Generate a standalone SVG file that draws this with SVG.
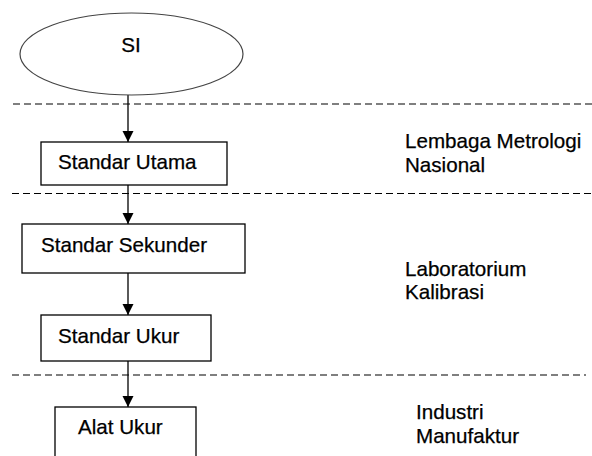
<svg xmlns="http://www.w3.org/2000/svg" width="592" height="456" viewBox="0 0 592 456">
<defs>
<style>
.node{fill:#fff;stroke:#000;stroke-width:1.3}
.oval{fill:#fff;stroke:#444;stroke-width:1.2}
.t{font-family:"Liberation Sans",Arial,sans-serif;font-size:20.6px;fill:#000;stroke:#000;stroke-width:0.25}
.dash{stroke:#000;stroke-width:1.2;stroke-dasharray:7 4;fill:none}
.conn{stroke:#000;stroke-width:1.3;fill:none;marker-end:url(#ah)}
</style>
<marker id="ah" markerUnits="userSpaceOnUse" markerWidth="12" markerHeight="12" viewBox="0 0 12 12" refX="11" refY="6" orient="auto">
<path d="M0,0.5 L11,6 L0,11.5 Z" fill="#000"/>
</marker>
</defs>
<rect width="592" height="456" fill="#fff"/>
<g id="dividers">
<line class="dash" x1="13" y1="104" x2="592" y2="104"/>
<line class="dash" x1="12" y1="193.5" x2="592" y2="193.5"/>
<line class="dash" x1="12" y1="375" x2="586" y2="375"/>
</g>
<g id="connectors">
<line class="conn" x1="128" y1="95" x2="128" y2="142"/>
<line class="conn" x1="128" y1="185" x2="128" y2="224"/>
<line class="conn" x1="128" y1="273" x2="128" y2="315"/>
<line class="conn" x1="128" y1="361" x2="128" y2="407"/>
</g>
<g id="si">
<ellipse class="oval" cx="131.5" cy="54" rx="111.5" ry="41"/>
<text class="t" x="131" y="52" text-anchor="middle">SI</text>
</g>
<g id="standar-utama">
<rect class="node" x="41" y="142" width="186" height="43"/>
<text class="t" x="58" y="169">Standar Utama</text>
</g>
<g id="standar-sekunder">
<rect class="node" x="22" y="224" width="223" height="49"/>
<text class="t" x="41" y="252">Standar Sekunder</text>
</g>
<g id="standar-ukur">
<rect class="node" x="41" y="315" width="170" height="46"/>
<text class="t" x="58" y="343">Standar Ukur</text>
</g>
<g id="alat-ukur">
<rect class="node" x="55" y="407" width="141" height="60"/>
<text class="t" x="78" y="434">Alat Ukur</text>
</g>
<g id="labels">
<text class="t" x="405" y="148">Lembaga Metrologi</text>
<text class="t" x="405" y="172">Nasional</text>
<text class="t" x="405" y="276">Laboratorium</text>
<text class="t" x="405" y="299">Kalibrasi</text>
<text class="t" x="416" y="419">Industri</text>
<text class="t" x="416" y="443">Manufaktur</text>
</g>
</svg>
